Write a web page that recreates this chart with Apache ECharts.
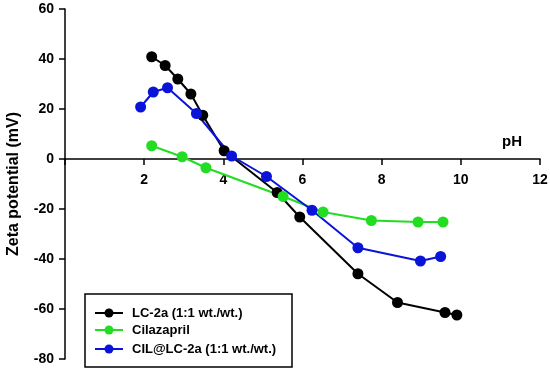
<!DOCTYPE html>
<html>
<head>
<meta charset="utf-8">
<script src="https://cdn.jsdelivr.net/npm/echarts@6/dist/echarts.min.js"></script>
<style>html,body{margin:0;padding:0;background:#fff;}#c{width:550px;height:373px;}</style>
</head>
<body>
<div id="c"></div>
<script>
var seriesNames = ['LC-2a (1:1 wt./wt.)', 'Cilazapril', 'CIL@LC-2a (1:1 wt./wt.)'];
var lc2aPH   = [2.19, 2.53, 2.85, 3.18, 3.48, 4.02, 5.36, 5.93, 7.40, 8.40, 9.60, 9.90];
var lc2aZeta = [40.9, 37.4, 32.0, 26.0, 17.5, 3.3, -13.4, -23.2, -45.9, -57.4, -61.4, -62.4];
var cilPH    = [2.19, 2.96, 3.56, 5.51, 6.52, 7.74, 8.92, 9.55];
var cilZeta  = [5.3, 0.9, -3.5, -15.0, -21.2, -24.6, -25.2, -25.2];
var mixPH    = [1.91, 2.23, 2.59, 3.32, 4.21, 5.09, 6.24, 7.40, 8.98, 9.49];
var mixZeta  = [20.8, 26.8, 28.5, 18.2, 1.2, -7.0, -20.5, -35.5, -40.8, -39.0];
var colors = ['#000000', '#22dd22', '#0a14d8'];

function pairs(xs, ys){ return xs.map(function(x,i){ return [x, ys[i]]; }); }
var font = 'Liberation Sans, Arial, sans-serif';
var chart = echarts.init(document.getElementById('c'));
var mk = function(name, data, color){
  return {name:name, type:'line', data:data, symbol:'circle', symbolSize:11,
    itemStyle:{color:color}, lineStyle:{color:color, width:2}, animation:false};
};
var gridTop = 9, gridBottom = 14, plotH = 373 - gridTop - gridBottom;
var yMin = -80, yMax = 60;
var zeroOffset = -plotH * (0 - yMin) / (yMax - yMin);
chart.setOption({
  animation:false,
  grid:{left:65, right:10, top:gridTop, bottom:gridBottom, outerBoundsMode:'none', containLabel:false},
  xAxis:{type:'value', min:0, max:12, interval:2, position:'bottom', offset:zeroOffset,
    axisLine:{onZero:false, lineStyle:{color:'#000', width:1.5}},
    axisTick:{show:true, inside:false, length:6, lineStyle:{color:'#000', width:1.5}},
    axisLabel:{color:'#000', fontWeight:'bold', fontSize:14, fontFamily:font, margin:14,
      formatter:function(v){ return v===0 ? '' : String(v); }},
    splitLine:{show:false}},
  yAxis:{type:'value', min:yMin, max:yMax, interval:20,
    axisLine:{show:true, onZero:false, lineStyle:{color:'#000', width:1.5}},
    axisTick:{show:true, length:6, lineStyle:{color:'#000', width:1.5}},
    axisLabel:{color:'#000', fontWeight:'bold', fontSize:14, fontFamily:font, margin:11},
    splitLine:{show:false}},
  legend:{show:false},
  graphic:[
    {type:'text', x:512, y:142, style:{text:'pH', fontSize:15, fontWeight:'bold', fontFamily:font, fill:'#000', align:'center', verticalAlign:'middle'}},
    {type:'text', x:14, y:184, rotation:Math.PI/2, style:{text:'Zeta potential (mV)', fontSize:16, fontWeight:'bold', fontFamily:font, fill:'#000', align:'center', verticalAlign:'middle'}},
    {type:'rect', shape:{x:85, y:294, width:207, height:73}, style:{fill:'#fff', stroke:'#000', lineWidth:1.5}},
    {type:'line', shape:{x1:95, y1:313, x2:123, y2:313}, style:{stroke:colors[0], lineWidth:2}},
    {type:'circle', shape:{cx:109, cy:313, r:4.5}, style:{fill:colors[0]}},
    {type:'text', x:132, y:313, style:{text:seriesNames[0], fontSize:13, fontWeight:'bold', fontFamily:font, fill:'#000', verticalAlign:'middle'}},
    {type:'line', shape:{x1:95, y1:330, x2:123, y2:330}, style:{stroke:colors[1], lineWidth:2}},
    {type:'circle', shape:{cx:109, cy:330, r:4.5}, style:{fill:colors[1]}},
    {type:'text', x:132, y:330, style:{text:seriesNames[1], fontSize:13, fontWeight:'bold', fontFamily:font, fill:'#000', verticalAlign:'middle'}},
    {type:'line', shape:{x1:95, y1:349, x2:123, y2:349}, style:{stroke:colors[2], lineWidth:2}},
    {type:'circle', shape:{cx:109, cy:349, r:4.5}, style:{fill:colors[2]}},
    {type:'text', x:132, y:349, style:{text:seriesNames[2], fontSize:13, fontWeight:'bold', fontFamily:font, fill:'#000', verticalAlign:'middle'}}
  ],
  series:[
    mk(seriesNames[0], pairs(lc2aPH, lc2aZeta), colors[0]),
    mk(seriesNames[1], pairs(cilPH, cilZeta), colors[1]),
    mk(seriesNames[2], pairs(mixPH, mixZeta), colors[2])
  ]
});
</script>
</body>
</html>
